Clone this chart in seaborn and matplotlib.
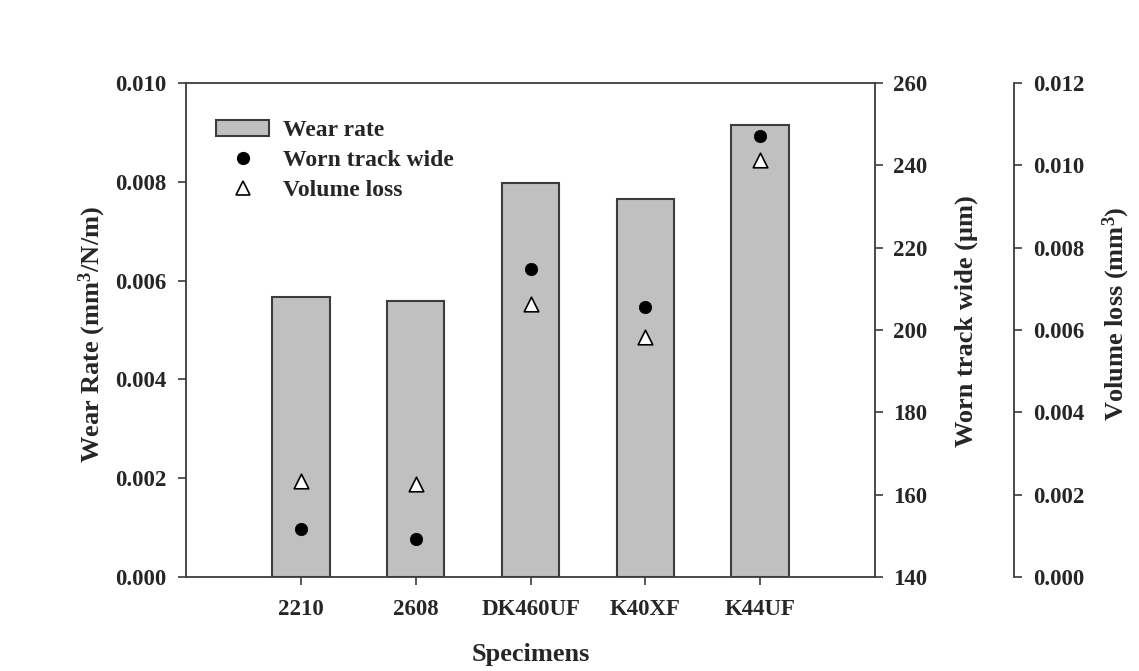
import matplotlib
matplotlib.use('Agg')
import numpy as np
import pandas as pd
import matplotlib.pyplot as plt
import seaborn as sns
from matplotlib.lines import Line2D
from matplotlib.patches import Patch
from matplotlib.ticker import FormatStrFormatter

categories = ['2210', '2608', 'DK460UF', 'K40XF', 'K44UF']
wear_rate = [0.00567, 0.00559, 0.00797, 0.00765, 0.00915]
worn_track_wide = [151.7, 149.2, 214.7, 205.7, 247.2]
volume_loss = [0.00234, 0.00225, 0.00663, 0.00584, 0.01013]

sns.set_theme(style='white')
plt.rcParams['font.family'] = ['Liberation Serif', 'DejaVu Serif']
plt.rcParams['font.weight'] = 'bold'
plt.rcParams['mathtext.fontset'] = 'custom'
plt.rcParams['mathtext.rm'] = 'Liberation Serif:bold'
plt.rcParams['mathtext.bf'] = 'Liberation Serif:bold'
plt.rcParams['mathtext.it'] = 'Liberation Serif:bold'
plt.rcParams['mathtext.default'] = 'rm'

SPINE = '#3c3c3c'
FS_TICK = 16.5
FS_LAB = 19
FS_LEG = 17

fig = plt.figure(figsize=(11.39, 6.71), dpi=100)
ax = fig.add_axes([186 / 1139, 94 / 671, 689 / 1139, 494 / 671])

df = pd.DataFrame({'Specimen': categories, 'Wear rate': wear_rate})
sns.barplot(data=df, x='Specimen', y='Wear rate', color='#c0c0c0', saturation=1,
            edgecolor=SPINE, linewidth=1.5, width=0.5, ax=ax, zorder=2)
ax.set_xlim(-1, 5)
ax.set_ylim(0, 0.010)
ax.set_yticks(np.arange(0, 0.0101, 0.002))
ax.yaxis.set_major_formatter(FormatStrFormatter('%.3f'))
ax.tick_params(axis='both', direction='out', length=6, width=1.2, color=SPINE,
               labelsize=FS_TICK, left=True, bottom=True)
ax.tick_params(axis='x', pad=10)
ax.tick_params(axis='y', pad=8)
for s in ax.spines.values():
    s.set_color(SPINE)
    s.set_linewidth(1.3)
ax.spines['right'].set_visible(False)
ax.set_xlabel('Specimens', fontsize=FS_LAB, fontweight='bold')
ax.set_ylabel('Wear Rate (mm$^{3}$/N/m)', fontsize=FS_LAB, fontweight='bold')
ax.xaxis.set_label_coords(0.5, (577 - 655) / 494)
ax.xaxis.label.set_va('center')
ax.yaxis.set_label_coords((92 - 186) / 689, 0.49)
ax.yaxis.label.set_va('center')

# second axis: worn track wide
ax2 = ax.twinx()
x_pos = np.arange(len(categories))
sns.scatterplot(x=x_pos, y=worn_track_wide, ax=ax2, color='black', s=80,
                marker='o', edgecolor='black', linewidth=0.5, zorder=5)
ax2.set_ylim(140, 260)
ax2.set_yticks(np.arange(140, 261, 20))
ax2.tick_params(axis='y', direction='out', length=6, width=1.2, color=SPINE,
                labelsize=FS_TICK, right=True, pad=7)
for k in ['left', 'top', 'bottom']:
    ax2.spines[k].set_visible(False)
ax2.spines['right'].set_color(SPINE)
ax2.spines['right'].set_linewidth(1.3)
ax2.set_ylabel('Worn track wide (µm)', fontsize=FS_LAB, fontweight='bold')
ax2.yaxis.set_label_coords((966 - 186) / 689, (577 - 321) / 494)
ax2.yaxis.label.set_va('center')

# third axis: volume loss
ax3 = ax.twinx()
ax3.spines['right'].set_position(('axes', (1014 - 186) / 689))
sns.scatterplot(x=x_pos, y=volume_loss, ax=ax3, color='white', s=110,
                marker='^', edgecolor='black', linewidth=1.2, zorder=5)
ax3.set_ylim(0, 0.012)
ax3.set_yticks(np.arange(0, 0.01201, 0.002))
ax3.yaxis.set_major_formatter(FormatStrFormatter('%.3f'))
ax3.tick_params(axis='y', direction='out', length=6, width=1.2, color=SPINE,
                labelsize=FS_TICK, right=True, pad=8)
for k in ['left', 'top', 'bottom']:
    ax3.spines[k].set_visible(False)
ax3.spines['right'].set_color(SPINE)
ax3.spines['right'].set_linewidth(1.3)
ax3.set_ylabel('Volume loss (mm$^{3}$)', fontsize=FS_LAB, fontweight='bold')
ax3.yaxis.set_label_coords((1116 - 186) / 689, (577 - 314) / 494)
ax3.yaxis.label.set_va('center')
ax3.set_xlim(-1, 5)

handles = [
    Patch(facecolor='#c0c0c0', edgecolor=SPINE, linewidth=1.5, label='Wear rate'),
    Line2D([], [], linestyle='none', marker='o', markersize=8.5,
           markerfacecolor='black', markeredgecolor='black', label='Worn track wide'),
    Line2D([], [], linestyle='none', marker='^', markersize=10,
           markerfacecolor='white', markeredgecolor='black', markeredgewidth=1.2,
           label='Volume loss'),
]
ax3.legend(handles=handles, loc='upper left',
           bbox_to_anchor=((216 - 186) / 689, (577 - 120) / 494),
           frameon=False, borderpad=0, borderaxespad=0,
           handlelength=2.25, handleheight=0.65, handletextpad=0.6, labelspacing=0.37,
           prop={'weight': 'bold', 'size': FS_LEG})

fig.savefig('out.png', dpi=100)
